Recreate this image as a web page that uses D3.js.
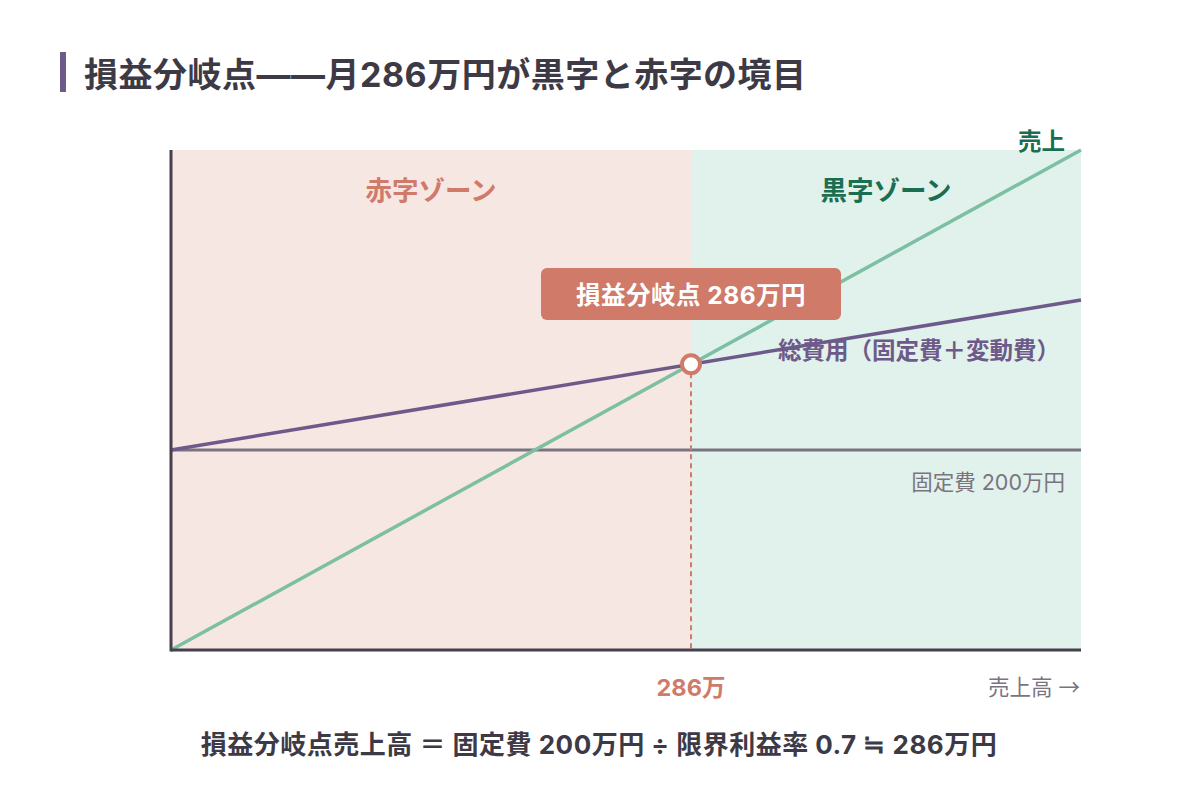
<!DOCTYPE html>
<html>
<head>
<meta charset="utf-8">
<script src="https://cdn.jsdelivr.net/npm/d3@7"></script>
<style>
  body { margin: 0; background: #fff; }
  svg { display: block; font-family: Inter, "Noto Sans CJK JP", "Noto Sans", sans-serif; }
</style>
</head>
<body>
<svg id="chart" width="1200" height="800"></svg>
<script>
// values in 万円
const salesRange = [0, 500];
const fixedCost = 200;
const variableRate = 0.3;     // 変動費率
const breakEven = 286;
const salesLine = [[0, 0], [500, 500]];
const costLine = [[0, 200], [500, 350]];
const fixedLine = [[0, 200], [500, 200]];

const svg = d3.select('#chart');
const m = { left: 171, right: 1081, top: 150, bottom: 650 };

const x = d3.scaleLinear().domain(salesRange).range([m.left, m.right]);
const y = d3.scaleLinear().domain([0, 500]).range([m.bottom, m.top]);

// title
svg.append('rect').attr('x', 60).attr('y', 52).attr('width', 6).attr('height', 40).attr('fill', '#6e5a8a');
svg.append('text').attr('x', 84).attr('y', 87)
  .attr('font-size', 34).attr('font-weight', 700).attr('fill', '#3d3a45').attr('letter-spacing', 0.5)
  .text('損益分岐点——月286万円が黒字と赤字の境目');

// zones
const beX = x(fixedCost / (1 - variableRate));
svg.append('rect').attr('x', m.left).attr('y', m.top)
  .attr('width', beX - m.left).attr('height', m.bottom - m.top).attr('fill', '#f6e7e2');
svg.append('rect').attr('x', beX).attr('y', m.top)
  .attr('width', m.right - beX).attr('height', m.bottom - m.top).attr('fill', '#e1f1eb');

svg.append('text').attr('x', (m.left + beX) / 2).attr('y', 200).attr('text-anchor', 'middle')
  .attr('font-size', 26.5).attr('font-weight', 700).attr('fill', '#d07a6a').text('赤字ゾーン');
svg.append('text').attr('x', (beX + m.right) / 2).attr('y', 200).attr('text-anchor', 'middle')
  .attr('font-size', 26.5).attr('font-weight', 700).attr('fill', '#1a6e52').text('黒字ゾーン');

const line = d3.line().x(d => x(d[0])).y(d => y(d[1]));

svg.append('path').attr('d', line(fixedLine)).attr('stroke', '#7a7480').attr('stroke-width', 3).attr('fill', 'none');
svg.append('path').attr('d', line(costLine)).attr('stroke', '#6e5a8a').attr('stroke-width', 3.5).attr('fill', 'none');
svg.append('path').attr('d', line(salesLine)).attr('stroke', '#7dbfa3').attr('stroke-width', 3.5).attr('fill', 'none');

// dashed guide
const beY = y(fixedCost / (1 - variableRate));
svg.append('line').attr('x1', beX).attr('x2', beX).attr('y1', beY).attr('y2', m.bottom)
  .attr('stroke', '#d07a6a').attr('stroke-width', 2).attr('stroke-dasharray', '5,4');

// axes
svg.append('line').attr('x1', m.left).attr('x2', m.left).attr('y1', m.top).attr('y2', m.bottom + 1.5)
  .attr('stroke', '#45404d').attr('stroke-width', 3);
svg.append('line').attr('x1', m.left).attr('x2', m.right).attr('y1', m.bottom).attr('y2', m.bottom)
  .attr('stroke', '#45404d').attr('stroke-width', 3);

// break-even point
svg.append('circle').attr('cx', beX).attr('cy', beY).attr('r', 9)
  .attr('fill', '#fff').attr('stroke', '#d07a6a').attr('stroke-width', 4);

svg.append('rect').attr('x', beX - 150).attr('y', 268).attr('width', 300).attr('height', 52).attr('rx', 6)
  .attr('fill', '#d07a6a');
svg.append('text').attr('x', beX).attr('y', 304).attr('text-anchor', 'middle')
  .attr('font-size', 24.5).attr('font-weight', 700).attr('fill', '#fff').attr('letter-spacing', 0.5)
  .text(`損益分岐点 ${breakEven}万円`);

// line labels
svg.append('text').attr('x', 1065).attr('y', 150).attr('text-anchor', 'end')
  .attr('font-size', 23.5).attr('font-weight', 700).attr('fill', '#1a6e52').text('売上');
svg.append('text').attr('x', 1060).attr('y', 359).attr('text-anchor', 'end')
  .attr('font-size', 23.5).attr('font-weight', 700).attr('fill', '#6e5a8a').text('総費用（固定費＋変動費）');
svg.append('text').attr('x', 1065).attr('y', 490).attr('text-anchor', 'end')
  .attr('font-size', 21.5).attr('fill', '#7a7480').text(`固定費 ${fixedCost}万円`);

// x labels
svg.append('text').attr('x', beX).attr('y', 696).attr('text-anchor', 'middle')
  .attr('font-size', 23.5).attr('font-weight', 700).attr('fill', '#d07a6a').text(`${breakEven}万`);
const salesAxis = svg.append('text').attr('x', 1080).attr('y', 695).attr('text-anchor', 'end')
  .attr('font-size', 21.5).attr('fill', '#7a7480');
salesAxis.append('tspan').text('売上高 ');
salesAxis.append('tspan').attr('font-family', '"Noto Sans CJK JP"').text('→');

// formula
svg.append('text').attr('x', 599).attr('y', 754).attr('text-anchor', 'middle')
  .attr('font-size', 26).attr('font-weight', 700).attr('fill', '#3d3a45').attr('letter-spacing', 0.5)
  .text(`損益分岐点売上高 ＝ 固定費 ${fixedCost}万円 ÷ 限界利益率 ${1 - variableRate} ≒ ${breakEven}万円`);
</script>
</body>
</html>
